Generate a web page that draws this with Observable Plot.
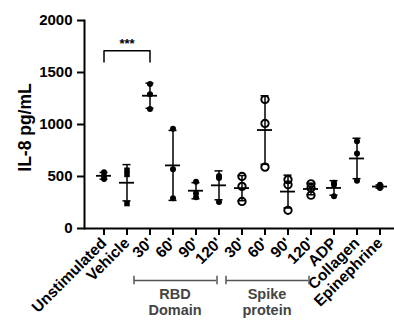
<!DOCTYPE html>
<html><head><meta charset="utf-8">
<script src="https://cdn.jsdelivr.net/npm/d3@7"></script>
<script src="https://cdn.jsdelivr.net/npm/@observablehq/plot@0.6"></script>
<style>body{margin:0;background:#fff}</style>
</head><body><div id="chart"></div>
<script>
// Categories (unique keys) and their tick labels
const categories = ["Unstimulated","Vehicle","RBD 30'","RBD 60'","RBD 90'","RBD 120'","Spike 30'","Spike 60'","Spike 90'","Spike 120'","ADP","Collagen","Epinephrine"];
const tickLabels = ["Unstimulated","Vehicle","30'","60'","90'","120'","30'","60'","90'","120'","ADP","Collagen","Epinephrine"];
const markerShape = ["circle","square","circle","circle","circle","circle","circle","circle","circle","circle","circle","circle","circle"];
const markerFilled = [true,true,true,true,true,true,false,false,false,false,true,true,true];

// IL-8 (pg/mL) replicate values per category
const unstimulated = [540, 505, 475];
const vehicle      = [560, 520, 240];
const rbd30        = [1390, 1290, 1150];
const rbd60        = [960, 570, 290];
const rbd90        = [450, 340, 300];
const rbd120       = [505, 485, 255];
const spike30      = [500, 405, 260];
const spike60      = [1240, 1010, 590];
const spike90      = [470, 420, 175];
const spike120     = [430, 390, 320];
const adp          = [440, 420, 310];
const collagen     = [840, 720, 460];
const epinephrine  = [420, 400, 390];
const values = [unstimulated, vehicle, rbd30, rbd60, rbd90, rbd120, spike30, spike60, spike90, spike120, adp, collagen, epinephrine];

const yTicks = [0, 500, 1000, 1500, 2000];
const yLabel = "IL-8 pg/mL";

// Significance annotation
const sigPair = ["Unstimulated", "RBD 30'"];
const sigLegs = [1600, 1710];
const sigText = "***";
const sigTextCat = "Vehicle";
const sigTextY = 1775;

// Group brackets under the axis
const groupNames = ["RBD\nDomain", "Spike\nprotein"];
const groupFrom = ["RBD 30'", "Spike 30'"];
const groupTo = ["RBD 120'", "Spike 120'"];
const groupMid = ["RBD 60'", "Spike 60'"];
const groupLineY = -500;
const groupCap = [-460, -540];
const groupLabelY = -705;

// Build tables
const points = categories.flatMap((c, i) => values[i].map(v => ({cat: c, value: v, shape: markerShape[i], filled: markerFilled[i]})));
const stats = categories.map((c, i) => ({cat: c, mean: d3.mean(values[i]), sd: d3.deviation(values[i])}));
const sigBracket = [
  {cat: sigPair[0], y: sigLegs[0]}, {cat: sigPair[0], y: sigLegs[1]},
  {cat: sigPair[1], y: sigLegs[1]}, {cat: sigPair[1], y: sigLegs[0]}
];
const groups = groupNames.map((n, i) => ({name: n, from: groupFrom[i], to: groupTo[i], mid: groupMid[i]}));

const chart = Plot.plot({
  width: 394,
  height: 329,
  marginLeft: 84,
  marginRight: 0,
  marginTop: 20,
  marginBottom: 101,
  style: {fontFamily: "'Liberation Sans', Arial, sans-serif", background: "white", overflow: "visible"},
  x: {type: "band", domain: categories, range: [87, 395], padding: 0, axis: null},
  y: {domain: [0, 2000], axis: null},
  marks: [
    Plot.ruleY([0], {strokeWidth: 2}),
    Plot.frame({anchor: "left", strokeWidth: 2}),
    Plot.axisY({ticks: yTicks, tickFormat: "d", tickSize: 7, tickPadding: 5, fontSize: 15, fontWeight: "bold", strokeWidth: 2, label: null}),
    Plot.axisX({tickSize: 7, tickPadding: 5, tickRotate: -45, fontSize: 15.5, fontWeight: "bold", strokeWidth: 2, label: null,
      tickFormat: d => tickLabels[categories.indexOf(d)]}),
    Plot.text([yLabel], {frameAnchor: "left", textAnchor: "middle", rotate: -90, dx: -59, dy: 3, fontSize: 17.5, fontWeight: "bold"}),
    // error bars (mean ± SD)
    Plot.ruleX(stats, {x: "cat", y1: d => d.mean - d.sd, y2: d => d.mean + d.sd, strokeWidth: 1.5}),
    Plot.tickY(stats, {x: "cat", y: d => d.mean + d.sd, insetLeft: 7.5, insetRight: 7.5, strokeWidth: 1.5}),
    Plot.tickY(stats, {x: "cat", y: d => d.mean - d.sd, insetLeft: 7.5, insetRight: 7.5, strokeWidth: 1.5}),
    Plot.tickY(stats, {x: "cat", y: "mean", insetLeft: 4, insetRight: 4, strokeWidth: 1.8}),
    // points
    Plot.dot(points.filter(d => d.filled), {x: "cat", y: "value", symbol: "shape", r: d => d.shape === "square" ? 5 : 4.6, fill: "black"}),
    Plot.dot(points.filter(d => !d.filled), {x: "cat", y: "value", symbol: "shape", r: 3.7, fill: "none", stroke: "black", strokeWidth: 1.9}),
    // significance bracket
    Plot.line(sigBracket, {x: "cat", y: "y", strokeWidth: 1.5}),
    Plot.text([{cat: sigTextCat, y: sigTextY, t: sigText}], {x: "cat", y: "y", text: "t", fontSize: 13, fontWeight: "bold"}),
    // group brackets
    Plot.ruleY(groups, {x1: "from", x2: "to", y: () => groupLineY, insetLeft: -4, insetRight: 14, stroke: "#555", strokeWidth: 1.5}),
    Plot.ruleX(groups, {x: "from", y1: () => groupCap[0], y2: () => groupCap[1], dx: -16, stroke: "#555", strokeWidth: 1.5}),
    Plot.ruleX(groups, {x: "to", y1: () => groupCap[0], y2: () => groupCap[1], dx: -2, stroke: "#555", strokeWidth: 1.5}),
    Plot.text(groups, {x: "mid", y: () => groupLabelY, text: "name", fontSize: 14.5, fontWeight: "bold", fill: "#444", lineHeight: 1.12, dx: 2})
  ]
});
document.getElementById("chart").appendChild(chart);
</script>
</body></html>
